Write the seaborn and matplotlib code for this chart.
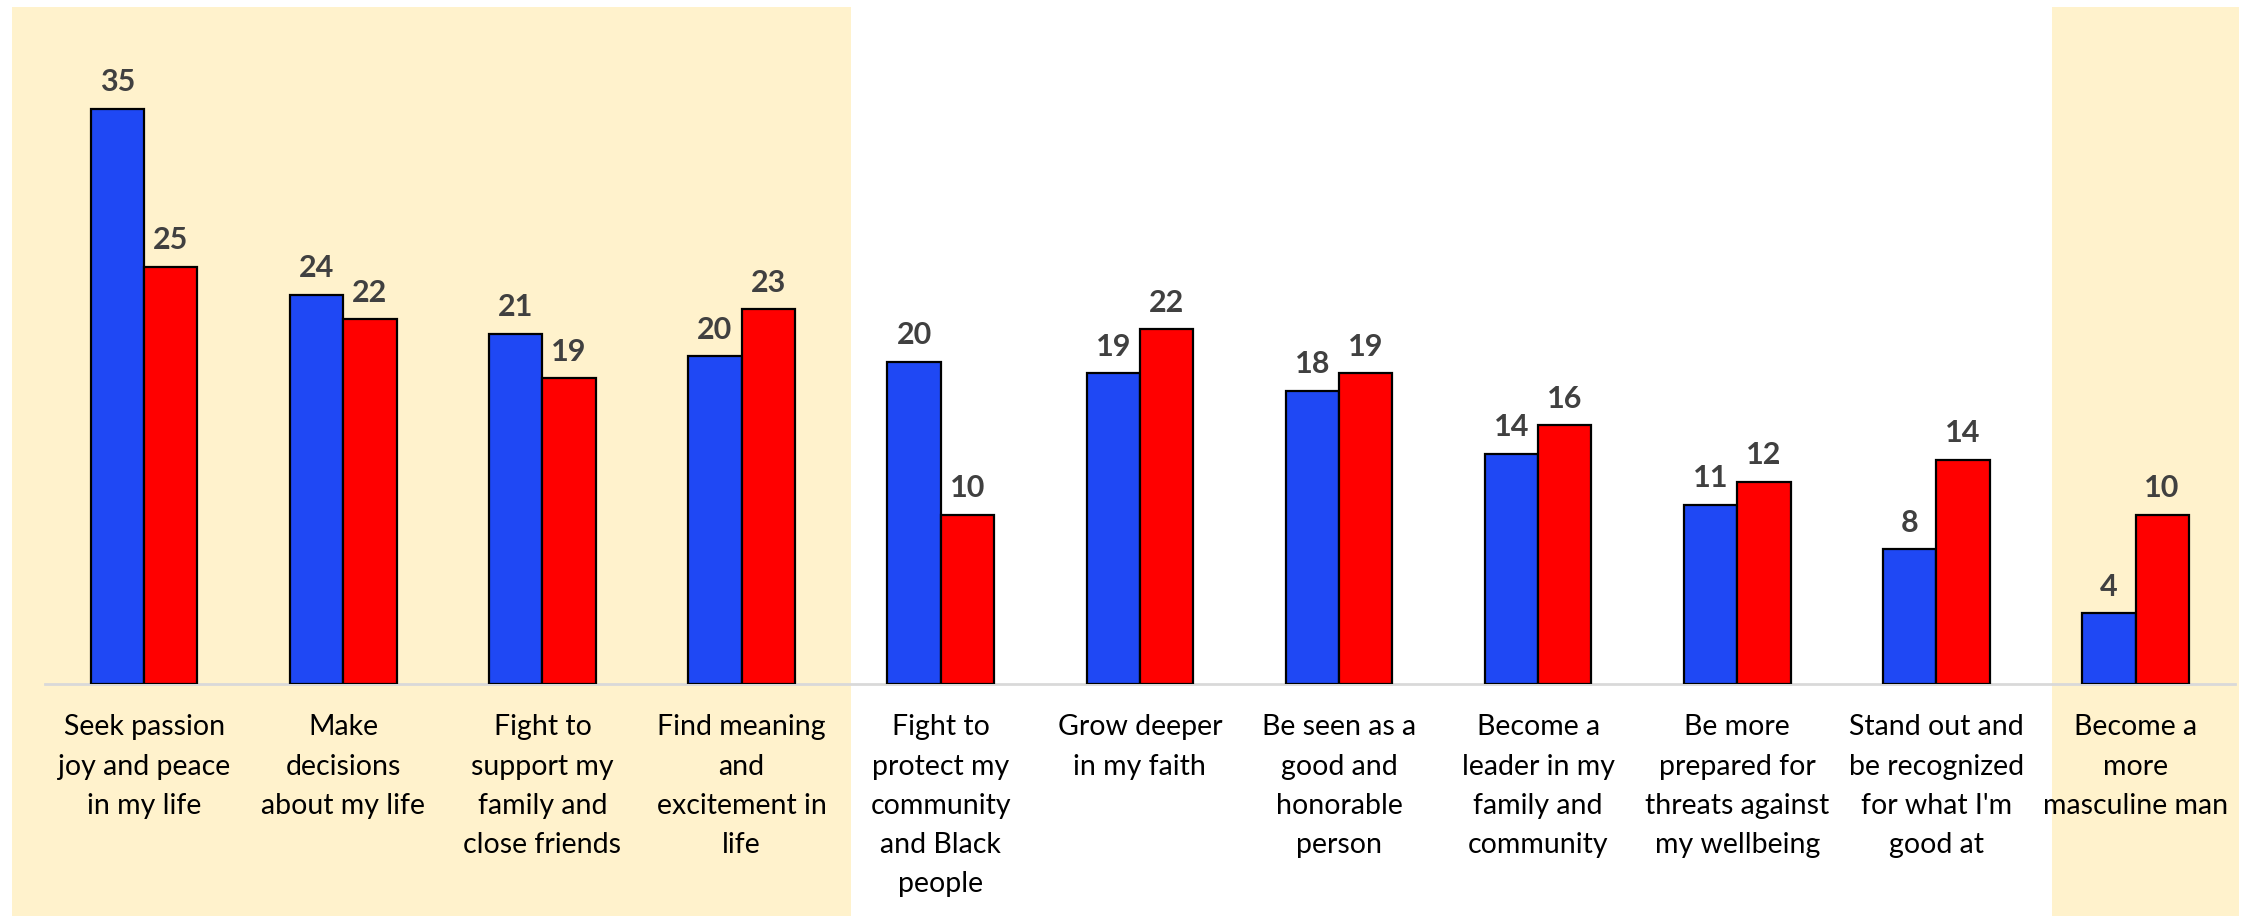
import matplotlib
matplotlib.use("Agg")
import matplotlib.pyplot as plt
import matplotlib.transforms as mtransforms
from matplotlib.patches import Rectangle
import seaborn as sns
import pandas as pd

categories = [
    "Seek passion\njoy and peace\nin my life",
    "Make\ndecisions\nabout my life",
    "Fight to\nsupport my\nfamily and\nclose friends",
    "Find meaning\nand\nexcitement in\nlife",
    "Fight to\nprotect my\ncommunity\nand Black\npeople",
    "Grow deeper\nin my faith",
    "Be seen as a\ngood and\nhonorable\nperson",
    "Become a\nleader in my\nfamily and\ncommunity",
    "Be more\nprepared for\nthreats against\nmy wellbeing",
    "Stand out and\nbe recognized\nfor what I'm\ngood at",
    "Become a\nmore\nmasculine man",
]
series_names = ["Series 1", "Series 2"]
blue_values = [35.0, 23.7, 21.3, 19.95, 19.6, 18.9, 17.85, 14.0, 10.9, 8.2, 4.3]
red_values = [25.4, 22.2, 18.6, 22.8, 10.3, 21.6, 18.9, 15.75, 12.3, 13.65, 10.3]
blue_labels = [35, 24, 21, 20, 20, 19, 18, 14, 11, 8, 4]
red_labels = [25, 22, 19, 23, 10, 22, 19, 16, 12, 14, 10]

BLUE = "#1F48F4"
RED = "#FF0000"
SHADE = "#FFF2CC"

df = pd.DataFrame({
    "category": categories * 2,
    "series": [series_names[0]] * len(categories) + [series_names[1]] * len(categories),
    "value": blue_values + red_values,
})

sns.set_theme(style="white")
plt.rcParams["font.family"] = ["Lato", "DejaVu Sans"]

fig = plt.figure(figsize=(22.54, 9.23), dpi=100)
fig.patch.set_facecolor("white")
ax = fig.add_axes([0.0198, 0.259, 0.9718, 0.6587])
ax.patch.set_visible(False)

sns.barplot(data=df, x="category", y="value", hue="series", order=categories,
            hue_order=series_names, palette=[BLUE, RED], saturation=1,
            width=0.535, gap=0, edgecolor="black", linewidth=1.6,
            legend=False, ax=ax, zorder=3)

ax.set_xlim(-0.5, len(categories) - 0.5)
ax.set_ylim(0, 37)

# shaded background bands
trans = mtransforms.blended_transform_factory(ax.transData, fig.transFigure)
for x0, x1 in [(-0.664, 3.548), (9.58, 10.52)]:
    ax.add_patch(Rectangle((x0, 1 - 916 / 923), x1 - x0, (916 - 7) / 923,
                           transform=trans, facecolor=SHADE, edgecolor="none",
                           clip_on=False, zorder=0))

# value labels
for cont, labels in zip(ax.containers, [blue_labels, red_labels]):
    ax.bar_label(cont, labels=[str(v) for v in labels], padding=9,
                 fontsize=22, fontweight="bold", color="#404040", zorder=4)

for s in ["left", "right", "top"]:
    ax.spines[s].set_visible(False)
ax.spines["bottom"].set_color("#D9D9D9")
ax.spines["bottom"].set_linewidth(2)
ax.spines["bottom"].set_zorder(2)
ax.set_yticks([])
ax.set_xlabel("")
ax.set_ylabel("")
ax.tick_params(axis="x", length=0, pad=22, labelsize=20.5, colors="black")
for t in ax.get_xticklabels():
    t.set_linespacing(1.62)
    t.set_verticalalignment("top")

fig.savefig("out.png", dpi=100)
